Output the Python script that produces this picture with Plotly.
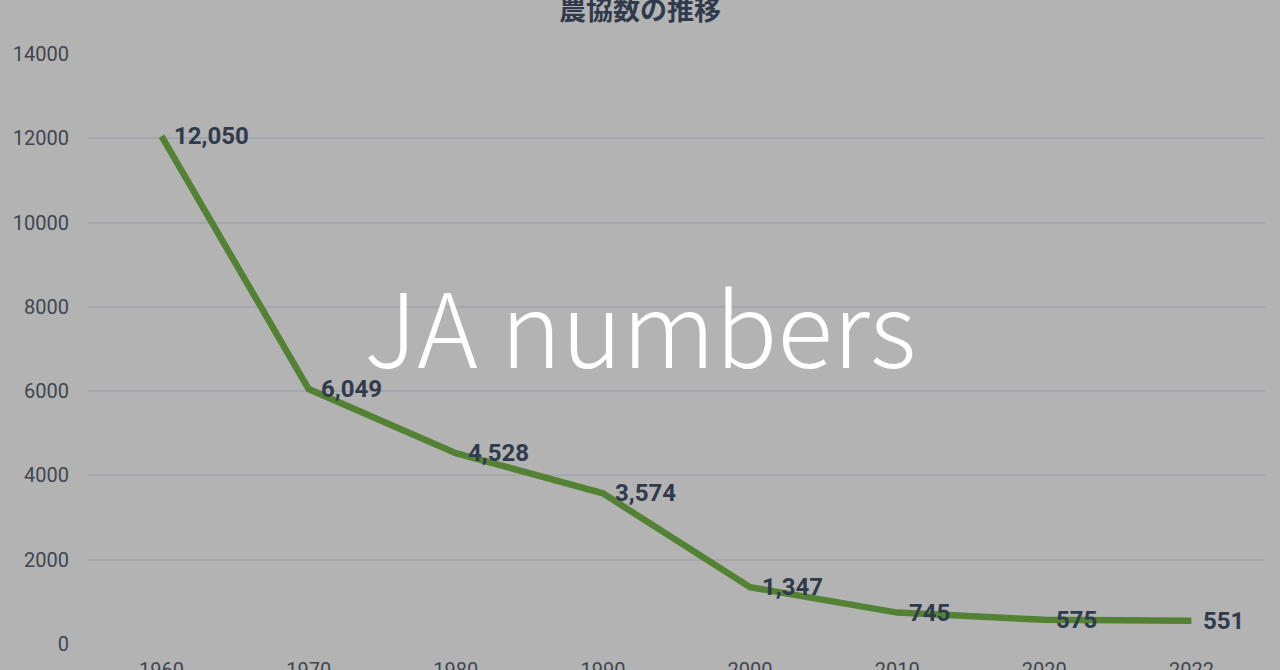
"""農協数の推移 (JA numbers)"""
import plotly.graph_objects as go

# データ
years = ["1960", "1970", "1980", "1990", "2000", "2010", "2020", "2022"]
ja_counts = [12050, 6049, 4528, 3574, 1347, 745, 575, 551]
labels = [f"{v:,}" for v in ja_counts]
y_ticks = [0, 2000, 4000, 6000, 8000, 10000, 12000, 14000]

BG = "#b3b3b3"
LINE = "#548235"
TEXT = "#2f3b4c"
TICK = "#3f4650"

fig = go.Figure()

fig.add_trace(go.Scatter(
    x=years, y=ja_counts, mode="lines",
    line=dict(color=LINE, width=6.5),
    hoverinfo="skip", showlegend=False,
))

# データラベル（点の右側）: カテゴリ軸なので位置はインデックスで指定
for i, (y, t) in enumerate(zip(ja_counts, labels)):
    fig.add_annotation(
        x=i, y=y, text=t, showarrow=False,
        xanchor="left", yanchor="middle", xshift=10,
        font=dict(family="Roboto", size=24, color=TEXT, weight="bold"),
    )

# 中央のオーバーレイ文字
fig.add_annotation(
    xref="paper", yref="paper", x=0.469, y=0.543,
    text="JA numbers", showarrow=False,
    xanchor="center", yanchor="middle",
    font=dict(family="Noto Sans CJK JP", size=103, color="white", weight=300),
)

fig.update_layout(
    width=1280, height=670,
    paper_bgcolor=BG, plot_bgcolor=BG,
    margin=dict(l=88, r=15, t=54, b=26),
    title=dict(
        text="<b>農協数の推移</b>", x=0.5, xanchor="center",
        y=0.985, yanchor="middle",
        font=dict(family="Noto Sans CJK JP", size=27, color=TEXT),
    ),
    xaxis=dict(
        type="category", range=[-0.5, 7.5], automargin=False,
        showgrid=False, zeroline=False, showline=False,
        tickfont=dict(family="Roboto", size=20, color=TICK),
        ticklabelstandoff=12,
    ),
    yaxis=dict(
        range=[0, 14000], tickvals=y_ticks, tickformat="d", automargin=False,
        showgrid=True, gridcolor="#a6a7ac", gridwidth=1.5,
        zeroline=False, showline=False,
        tickfont=dict(family="Roboto", size=20, color=TICK),
        ticklabelstandoff=18,
    ),
)

fig.write_html("out.html", config={"displayModeBar": False},
               post_script="document.body.style.margin='0';")
